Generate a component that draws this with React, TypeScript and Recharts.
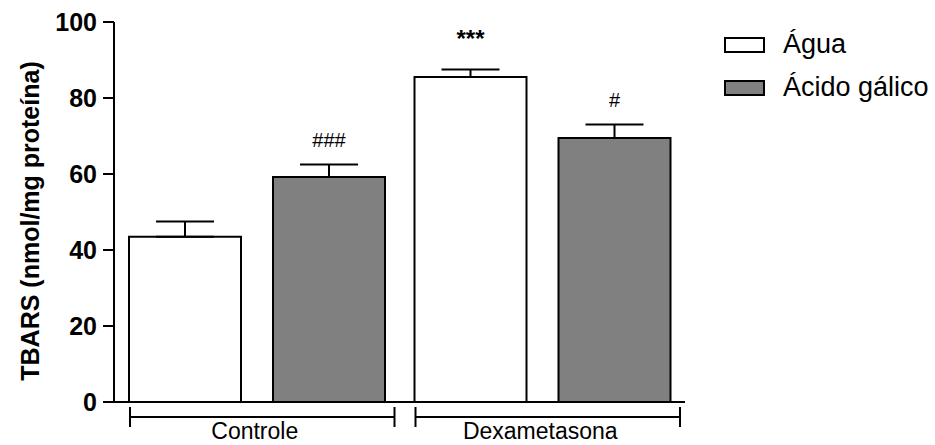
import { BarChart, Bar, XAxis, YAxis, ErrorBar, LabelList, Legend, Label } from 'recharts';

// valores (TBARS, nmol/mg proteína)
const groups = ['Controle', 'Dexametasona'];
const agua = [43.5, 85.5];
const aguaErr = [4, 2];
const acido = [59.2, 69.5];
const acidoErr = [3.3, 3.5];
const aguaNote = ['', '***'];
const acidoNote = ['###', '#'];
const yTicks = [0, 20, 40, 60, 80, 100];

const series = [
  { key: 'agua', name: 'Água', fill: '#ffffff', vals: agua, err: aguaErr },
  { key: 'acido', name: 'Ácido gálico', fill: '#808080', vals: acido, err: acidoErr },
];

const data = groups.map((g, i) => ({
  group: g,
  agua: agua[i],
  aguaErr: [0, aguaErr[i]],
  aguaNote: aguaNote[i],
  acido: acido[i],
  acidoErr: [0, acidoErr[i]],
  acidoNote: acidoNote[i],
}));

const FONT = '"Liberation Sans", Arial, sans-serif';

// colchete + nome do grupo sob o eixo X
function GroupTick(props: any) {
  const { x, y, payload, width } = props;
  const half = (width ?? 571) / groups.length / 2;
  const x1 = x - half + 16;
  const x2 = x + half - 5;
  return (
    <g>
      <line x1={x1} y1={y + 15} x2={x2} y2={y + 15} stroke="#000" strokeWidth={2} />
      <line x1={x1} y1={y + 5} x2={x1} y2={y + 25} stroke="#000" strokeWidth={2} />
      <line x1={x2} y1={y + 5} x2={x2} y2={y + 25} stroke="#000" strokeWidth={2} />
      <text x={x - 2} y={y + 37} textAnchor="middle" fontFamily={FONT} fontSize={23} fill="#000">
        {payload.value}
      </text>
    </g>
  );
}

// marcas de significância acima da barra de erro
function noteRenderer(vals: number[], errs: number[]) {
  return (props: any) => {
    const { x, y, width, height, value, index } = props;
    if (!value) return null;
    const perUnit = height / vals[index];
    const capY = y - errs[index] * perUnit;
    const star = String(value).includes('*');
    return (
      <text
        x={x + width / 2}
        y={capY - (star ? 23 : 18)}
        textAnchor="middle"
        fontFamily={FONT}
        fontSize={star ? 24 : 20}
        fontWeight={star ? 'bold' : 'normal'}
        fill="#000"
      >
        {value}
      </text>
    );
  };
}

function YLabel(props: any) {
  const vb = props.viewBox ?? { x: 0, y: 22, width: 114, height: 380 };
  const cx = vb.x + 30;
  const cy = vb.y + vb.height / 2 + 9;
  return (
    <text
      x={cx}
      y={cy}
      transform={`rotate(-90 ${cx} ${cy})`}
      textAnchor="middle"
      dominantBaseline="central"
      fontFamily={FONT}
      fontWeight="bold"
      fontSize={25}
      fill="#000"
    >
      TBARS (nmol/mg proteína)
    </text>
  );
}

function LegendBox() {
  return (
    <div style={{ fontFamily: FONT, fontSize: 27, color: '#000' }}>
      {series.map((s) => (
        <div key={s.key} style={{ display: 'flex', alignItems: 'center', height: 43 }}>
          <div
            style={{
              width: 41,
              height: 16,
              boxSizing: 'border-box',
              border: '2px solid #000',
              background: s.fill,
              marginRight: 18,
            }}
          />
          <span>{s.name}</span>
        </div>
      ))}
    </div>
  );
}

export default function App() {
  return (
    <div style={{ position: 'absolute', left: 0, top: 0, width: 935, height: 445, background: '#fff' }}>
      <BarChart
        width={935}
        height={445}
        data={data}
        margin={{ top: 22, right: 250, bottom: 0, left: 0 }}
        barSize={112}
        barGap={32}
      >
        <XAxis
          dataKey="group"
          height={43}
          axisLine={{ stroke: '#000', strokeWidth: 2 }}
          tickLine={false}
          tickSize={0}
          tickMargin={0}
          tick={<GroupTick />}
          interval={0}
        />
        <YAxis
          width={114}
          domain={[0, 100]}
          ticks={yTicks}
          interval={0}
          axisLine={{ stroke: '#000', strokeWidth: 2 }}
          tickLine={{ stroke: '#000', strokeWidth: 2 }}
          tickSize={11}
          tickMargin={6}
          tick={{ fontFamily: FONT, fontSize: 25, fontWeight: 'bold', fill: '#000' }}
        >
          <Label content={<YLabel />} />
        </YAxis>
        <Legend
          layout="vertical"
          align="center"
          verticalAlign="middle"
          wrapperStyle={{ left: 724, top: 23, width: 211 }}
          content={<LegendBox />}
        />
        {series.map((s) => (
          <Bar
            key={s.key}
            dataKey={s.key}
            name={s.name}
            fill={s.fill}
            stroke="#000"
            strokeWidth={2}
            isAnimationActive={false}
          >
            <ErrorBar dataKey={`${s.key}Err`} width={29} stroke="#000" strokeWidth={2} direction="y" />
            <LabelList dataKey={`${s.key}Note`} content={noteRenderer(s.vals, s.err)} />
          </Bar>
        ))}
      </BarChart>
    </div>
  );
}
